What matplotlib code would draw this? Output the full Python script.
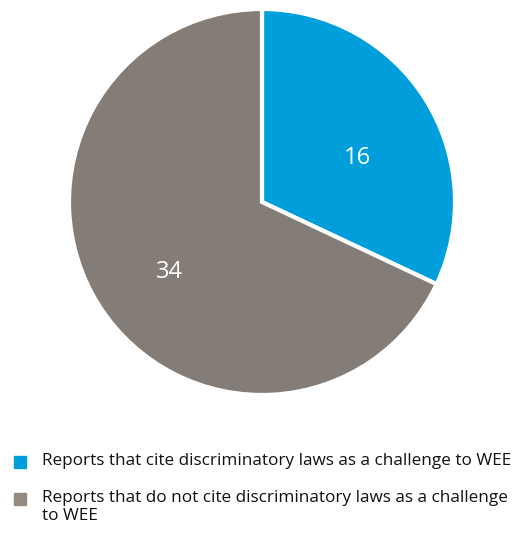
import matplotlib
matplotlib.use("Agg")
import matplotlib.pyplot as plt
import numpy as np

categories = ["Reports that cite discriminatory laws as a challenge to WEE",
              "Reports that do not cite discriminatory laws as a challenge\nto WEE"]
values = [16, 34]
colors = ["#009fdb", "#847d77"]
legend_colors = ["#009fdb", "#948a7f"]

plt.rcParams['font.family'] = ['Open Sans', 'DejaVu Sans']

fig = plt.figure(figsize=(5.29, 5.38), dpi=100)
ax = fig.add_axes([69/529, 143/538, 386/529, 386/538])
wedges, _ = ax.pie(values, colors=colors, startangle=90, counterclock=False,
                   radius=1.0, wedgeprops=dict(edgecolor="white", linewidth=3))
ax.set_xlim(-1, 1)
ax.set_ylim(-1, 1)
ax.set_aspect('equal')
ax.axis('off')

label_pos = [(0.545, 24.8), (0.60, 217.3)]
for v, (r, a) in zip(values, label_pos):
    ax.text(r*np.cos(np.radians(a)), r*np.sin(np.radians(a)), str(v),
            color="white", fontsize=17, ha="center", va="center")

legend_y = [462, 499]
for cat, c, y in zip(categories, legend_colors, legend_y):
    fig.patches.append(plt.Rectangle((14/529, 1 - (y+6)/538), 12/529, 12/538,
                                     transform=fig.transFigure, color=c))
    fig.text(42/529, 1 - (y-9)/538, cat, fontsize=12.3, ha="left", va="top",
             color="#111111", linespacing=1.17)

fig.savefig("out.png", dpi=100)
